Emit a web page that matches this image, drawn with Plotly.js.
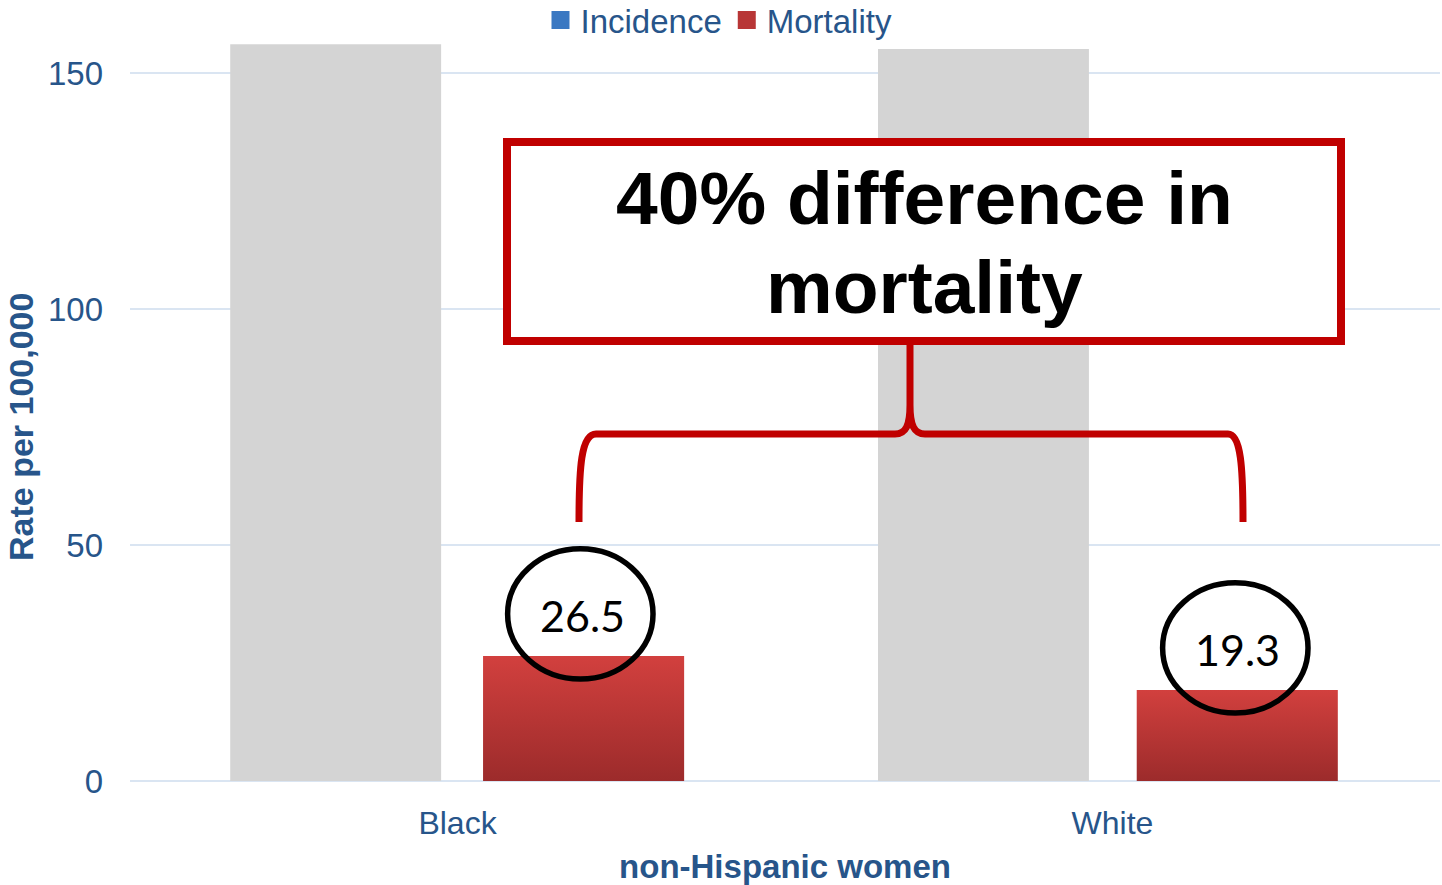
<!DOCTYPE html>
<html>
<head>
<meta charset="utf-8">
<script src="https://cdn.plot.ly/plotly-3.0.1.min.js"></script>
<style>
  html, body { margin: 0; padding: 0; background: #ffffff; }
  #chart { width: 1442px; height: 885px; }
</style>
</head>
<body>
<div id="chart"></div>
<script>
// ---- data ----
const categories = ['Black', 'White'];
const incidence = [156.1, 155.1];
const mortality = [26.5, 19.3];
const seriesNames = ['Incidence', 'Mortality'];
const yTicks = [0, 50, 100, 150];
const calloutLines = ['40% difference in', 'mortality'];

// ---- styling ----
const textBlue = '#27558A';
const gridBlue = '#DAE5F2';
const calloutRed = '#C00000';
const FONT = '"Liberation Sans", Arial, sans-serif';

// plot-area geometry (pixels) used only for the callout drawing
const L = 130, R = 2, T = 38, B = 104, W = 1442, H = 885;
const pw = W - L - R, ph = H - T - B;
const px = x => (x - L) / pw;
const py = y => (H - B - y) / ph;
function pathFromPx(cmds) {
  return cmds.map(c => {
    if (typeof c === 'string') return c;
    return px(c[0]).toFixed(5) + ',' + py(c[1]).toFixed(5);
  }).join(' ');
}

const bracketPath = pathFromPx([
  'M', [579, 522], 'C', [579, 468], [581, 434], [596, 434],
  'L', [895, 434],
  'C', [906, 434], [910, 425], [910, 405],
  'L', [910, 345],
  'M', [910, 405],
  'C', [910, 425], [914, 434], [925, 434],
  'L', [1228, 434],
  'C', [1241, 434], [1243, 468], [1243, 522]
]);

const incOffset = [-0.347, -0.358], incWidth = 0.322;
const morOffset = [0.039, 0.037], morWidth = 0.307;
const morCenter = 0.038 + morWidth / 2;

const traces = [
  {
    type: 'bar', x: categories, y: incidence, name: seriesNames[0],
    marker: { color: '#D4D4D4', line: { width: 0 } },
    width: incWidth, offset: incOffset, showlegend: false, hoverinfo: 'skip'
  },
  {
    type: 'bar', x: categories, y: categories.map(() => null), name: seriesNames[0],
    marker: { color: '#3A78C2', line: { width: 0 } }, showlegend: true, hoverinfo: 'skip'
  },
  {
    type: 'bar', x: categories, y: mortality, name: seriesNames[1],
    marker: { color: '#B83636', line: { width: 0 } },
    width: morWidth, offset: morOffset, hoverinfo: 'skip'
  }
];

const shapes = [
  {
    type: 'rect', xref: 'paper', yref: 'paper', layer: 'above',
    x0: px(507), x1: px(1341), y0: py(341), y1: py(142),
    fillcolor: '#ffffff', line: { color: calloutRed, width: 8 }
  },
  {
    type: 'path', xref: 'paper', yref: 'paper', layer: 'above',
    path: bracketPath, line: { color: calloutRed, width: 7 }
  }
];
const ringRx = 0.111, ringRy = 13.8, ringLift = 8.9;
mortality.forEach((v, i) => {
  const cx = i + morCenter - 0.004;
  const cy = v + ringLift;
  shapes.push({
    type: 'circle', xref: 'x', yref: 'y', layer: 'above',
    x0: cx - ringRx, x1: cx + ringRx, y0: cy - ringRy, y1: cy + ringRy,
    line: { color: '#000000', width: 5.5 }, fillcolor: 'rgba(0,0,0,0)'
  });
});

const annotations = [
  {
    xref: 'paper', yref: 'paper', x: px(924), y: py(198), xanchor: 'center', yanchor: 'middle',
    text: '<b>' + calloutLines[0] + '</b>', showarrow: false,
    font: { family: FONT, size: 75, color: '#000000' }
  },
  {
    xref: 'paper', yref: 'paper', x: px(924), y: py(287), xanchor: 'center', yanchor: 'middle',
    text: '<b>' + calloutLines[1] + '</b>', showarrow: false,
    font: { family: FONT, size: 75, color: '#000000' }
  },
  {
    xref: 'paper', yref: 'paper', x: px(21), y: py(427), xanchor: 'center', yanchor: 'middle',
    text: '<b>Rate per 100,000</b>', textangle: -90, showarrow: false,
    font: { family: FONT, size: 34, color: textBlue }
  }
];
mortality.forEach((v, i) => {
  annotations.push({
    xref: 'x', yref: 'y', x: i + morCenter, y: v, yshift: 40,
    xanchor: 'center', yanchor: 'middle', showarrow: false,
    text: v.toFixed(1),
    font: { family: 'Lato, "Open Sans", sans-serif', size: 43, color: '#000000' }
  });
});

const layout = {
  width: W, height: H,
  margin: { l: L, r: R, t: T, b: B, pad: 0, autoexpand: false },
  paper_bgcolor: '#ffffff', plot_bgcolor: '#ffffff',
  barmode: 'overlay',
  font: { family: FONT, color: textBlue },
  showlegend: true,
  legend: {
    orientation: 'h', x: px(719), xanchor: 'center', y: py(20), yanchor: 'middle',
    font: { family: FONT, size: 33, color: textBlue },
    bgcolor: 'rgba(0,0,0,0)', itemwidth: 30, tracegroupgap: 0
  },
  xaxis: {
    type: 'category', range: [-0.5, 1.5],
    showgrid: false, showline: false, zeroline: false, ticks: '',
    tickfont: { family: FONT, size: 32, color: textBlue },
    ticklabelstandoff: 20,
    title: { text: '<b>non-Hispanic women</b>', font: { family: FONT, size: 33, color: textBlue }, standoff: 18 },
    automargin: false
  },
  yaxis: {
    range: [0, ph / 4.72], tickvals: yTicks, ticktext: yTicks.map(String),
    showgrid: true, gridcolor: gridBlue, gridwidth: 2,
    zeroline: true, zerolinecolor: gridBlue, zerolinewidth: 2,
    showline: false, ticks: '',
    tickfont: { family: FONT, size: 33, color: textBlue },
    ticklabelstandoff: 26,
    automargin: false
  },
  shapes: shapes,
  annotations: annotations
};

Plotly.newPlot('chart', traces, layout, { staticPlot: true, displayModeBar: false }).then(gd => {
  // vertical gradient on the mortality bars
  const svg = gd.querySelector('svg.main-svg');
  const ns = 'http://www.w3.org/2000/svg';
  let defs = svg.querySelector('defs');
  if (!defs) { defs = document.createElementNS(ns, 'defs'); svg.insertBefore(defs, svg.firstChild); }
  const grad = document.createElementNS(ns, 'linearGradient');
  grad.setAttribute('id', 'mortGrad');
  grad.setAttribute('x1', '0'); grad.setAttribute('y1', '0');
  grad.setAttribute('x2', '0'); grad.setAttribute('y2', '1');
  [['0', '#D2403E'], ['1', '#9C2B2B']].forEach(([o, c]) => {
    const s = document.createElementNS(ns, 'stop');
    s.setAttribute('offset', o); s.setAttribute('stop-color', c);
    grad.appendChild(s);
  });
  defs.appendChild(grad);
  gd.querySelectorAll('.barlayer path').forEach(p => {
    if ((p.style.fill || '').replace(/\s/g, '') === 'rgb(184,54,54)') p.style.fill = 'url(#mortGrad)';
  });
  // larger legend swatches
  gd.querySelectorAll('.legend .legendpoints path').forEach(p => {
    p.setAttribute('d', 'M9,9H-9V-9H9Z');
  });
});
</script>
</body>
</html>
